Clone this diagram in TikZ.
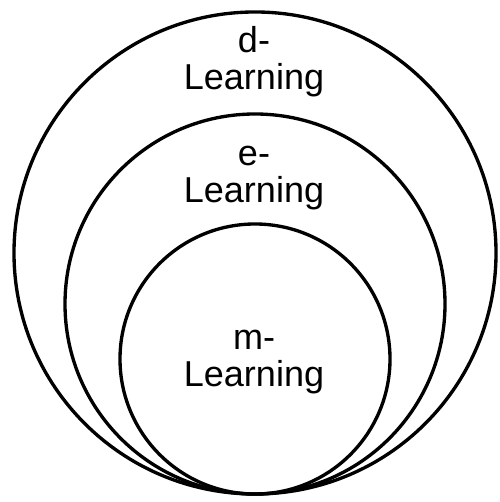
\documentclass[tikz,border=0pt]{standalone}
\usepackage{fontspec}
\setmainfont{Liberation Sans}

\begin{document}
\begin{tikzpicture}[x=0.02cm,y=0.02cm,
    ring/.style={line width=1.9pt},
    lbl/.style={align=center,inner sep=0pt,font=\fontsize{20.5pt}{21pt}\selectfont}]
    \useasboundingbox (0,0) rectangle (499,502);

    % circles touching at the bottom
    \draw[ring] (255,249) circle (241);
    \draw[ring] (255,198) circle (190);
    \draw[ring] (255,143) circle (135);

    \node[lbl] (dlearn) at (254,440) {d-\\Learning};
    \node[lbl] (elearn) at (254,324) {e-\\Learning};
    \node[lbl] (mlearn) at (254,140) {m-\\Learning};
\end{tikzpicture}
\end{document}
